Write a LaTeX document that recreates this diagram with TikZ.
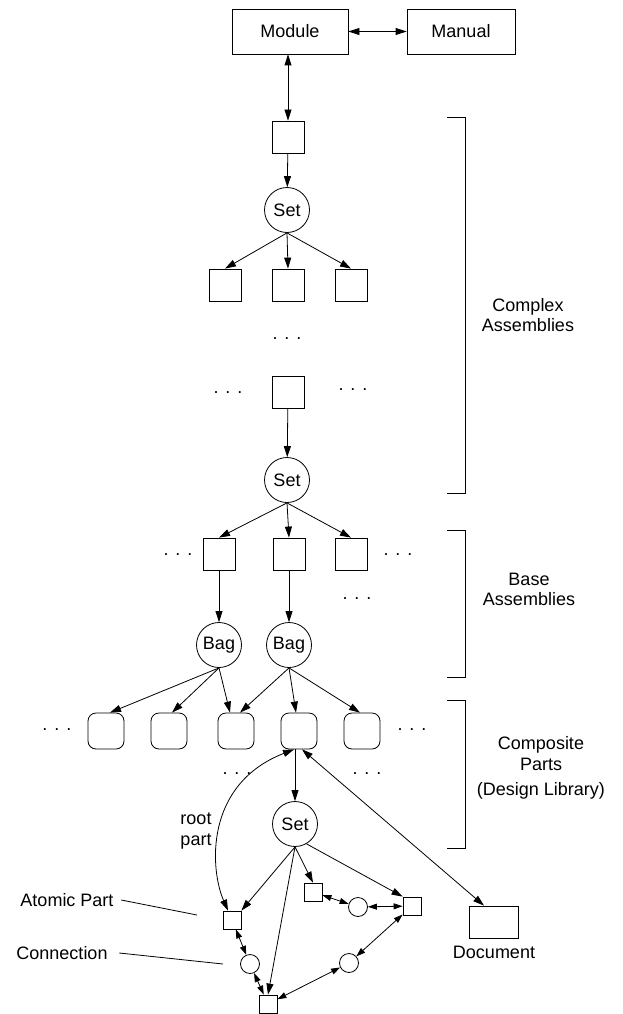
\documentclass[tikz,border=0pt]{standalone}
\usepackage{fontspec}
\setmainfont{Liberation Sans}
\usetikzlibrary{arrows.meta}
\usetikzlibrary{positioning}

\newcommand{\moredots}{.\hspace{7pt}.\hspace{7pt}.}

\begin{document}
\begin{tikzpicture}[x=1pt, y=-1pt, line width=0.8pt,
    >={Triangle[length=11pt,width=7pt]},
    every node/.style={font=\fontsize{18}{21}\selectfont},
    bigbox/.style={draw, minimum height=45pt, inner sep=0pt},
    sqbox/.style={draw, minimum size=32pt, inner sep=0pt},
    setnode/.style={draw, circle, minimum size=45pt, inner sep=1pt},
    partbox/.style={draw, rounded corners=8pt, minimum size=36pt, inner sep=0pt},
    atomic/.style={draw, minimum size=18pt, inner sep=0pt},
    conn/.style={draw, circle, minimum size=19pt, inner sep=0pt},
    smallhead/.style={>={Triangle[length=9pt,width=6pt]}}]

\useasboundingbox (0,0) rectangle (623,1014);

% Module and manual
\node[bigbox, minimum width=116pt] (mod) at (290,31.5) {Module};
\node[bigbox, minimum width=108pt] (man) at (461,31.5) {Manual};

% Complex assemblies
\node[sqbox] (cb0) at (288,137) {};
\node[setnode] (set1) at (287,210) {Set};
\foreach \i/\x in {1/225, 2/288, 3/351} {
    \node[sqbox] (cb\i) at (\x,285) {};
}
\node (dd1) at (287,339) {\moredots};
\node[sqbox] (cbm) at (288,392) {};
\node (dd2) at (228,393) {\moredots};
\node (dd3) at (353,390) {\moredots};
\node[setnode] (set2) at (287,480) {Set};

% Base assemblies
\foreach \i/\x in {1/219, 2/289, 3/351} {
    \node[sqbox] (ba\i) at (\x,554) {};
}
\node (dd4) at (178,555) {\moredots};
\node (dd5) at (398,555) {\moredots};
\node (dd6) at (357,599) {\moredots};
\node[setnode] (bag1) at (219,645) {Bag};
\node[setnode] (bag2) at (289,645) {Bag};

% Composite parts
\foreach \i/\x in {1/106, 2/169, 3/236, 4/299, 5/362} {
    \node[partbox] (cp\i) at (\x,731) {};
}
\node (dd7) at (57,730) {\moredots};
\node (dd8) at (412,730) {\moredots};
\node (dd9) at (237,774) {\moredots};
\node (dd10) at (367,774) {\moredots};
\node[setnode] (set3) at (295,824) {Set};

% Atomic parts and connections
\node[atomic] (ap1) at (232,920) {};
\node[atomic] (ap2) at (268,1004) {};
\node[atomic] (ap3) at (313,892) {};
\node[atomic] (ap4) at (412,906) {};
\node[conn] (cn1) at (250,964) {};
\node[conn] (cn2) at (358,907) {};
\node[conn] (cn3) at (349,963) {};

% Document
\node[draw, minimum width=49pt, minimum height=32pt, inner sep=0pt] (doc) at (494,922) {};
\node[below=4pt of doc] (doclbl) {Document};

% Labels
\node[align=center] (lblroot) at (196,831) {root\\part};
\node (lblatomic) at (67,900) {Atomic Part};
\node (lblconn) at (62,953) {Connection};
\coordinate (atomicend) at (197,915);
\coordinate (connend) at (223,964);
\node[align=center, font=\fontsize{18}{20}\selectfont] (lblcomplex) at (528,315) {Complex\\Assemblies};
\node[align=center, font=\fontsize{18}{20}\selectfont] (lblbase) at (529,589) {Base\\Assemblies};
\node[align=center] (lblcomp) at (541,768) {Composite\\Parts\\[4pt](Design Library)};

% Connections at the top
\draw[<->] (mod) -- (man);
\draw[<->] (cb0 |- mod.south) -- (cb0);
\draw[->] (cb0) -- (set1);
\foreach \i in {1,2,3} {
    \draw[->] (set1.south) -- (cb\i.north);
}
\draw[->] (cbm) -- (set2);
\foreach \i in {1,2,3} {
    \draw[->] (set2.south) -- (ba\i.north);
}
\draw[->] (ba1) -- (bag1);
\draw[->] (ba2) -- (bag2);

% Bags to composite parts
\draw[->] (bag1.south) -- ([xshift=4pt]cp1.north);
\draw[->] (bag1.south) -- ([xshift=3pt]cp2.north);
\draw[->] (bag1.south) -- ([xshift=-6pt]cp3.north);
\draw[->] (bag2.south) -- ([xshift=4pt]cp3.north);
\draw[->] (bag2.south) -- ([xshift=-3pt]cp4.north);
\draw[->] (bag2.south) -- ([xshift=-2pt]cp5.north);

% Composite part internals
\draw[->] (set3 |- cp4.south) -- (set3);
\draw[<->] ([xshift=-5pt]cp4.south) .. controls +(-90,35) and +(-18,-41) .. ([xshift=-4pt]ap1.north);
\draw[<->] ([xshift=3pt]cp4.south) -- ([xshift=-10pt]doc.north);
\draw[->] (set3.south) -- (ap1.north east);
\draw[->] (set3.south) -- (ap2.north);
\draw[->] (set3.south) -- (ap3.north);
\draw[->] (set3.-60) -- (ap4.north west);
\draw[smallhead, <->] (ap1) -- (cn1);
\draw[smallhead, <->] (cn1) -- (ap2);
\draw[smallhead, <->] (ap3) -- (cn2);
\draw[smallhead, <->] (cn2) -- (ap4);
\draw[smallhead, <->] (ap4) -- (cn3);
\draw[smallhead, <->] (cn3) -- (ap2);

% Leader lines
\draw ([xshift=4pt]lblatomic.east) -- (atomicend);
\draw ([xshift=8pt]lblconn.east) -- (connend);

% Brackets
\foreach \ya/\yb in {117/493, 530/677, 700/848} {
    \draw (447,\ya) -- (465,\ya) -- (465,\yb) -- (447,\yb);
}

\end{tikzpicture}
\end{document}
